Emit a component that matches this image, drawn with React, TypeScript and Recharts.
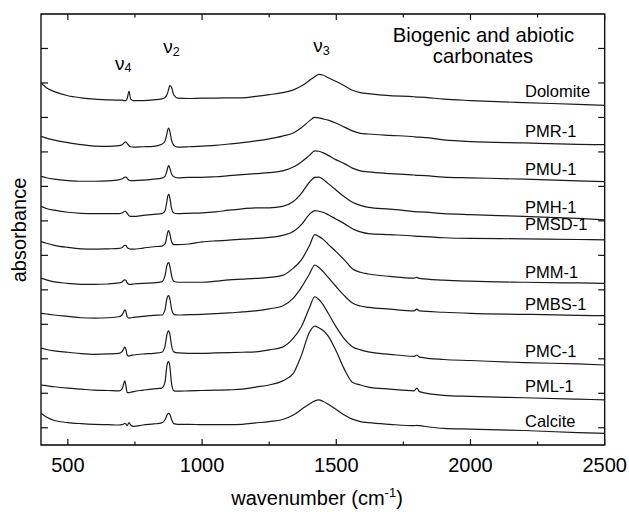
import React from "react";
import { LineChart, Line, XAxis, YAxis, ReferenceArea } from "recharts";

// wavenumber grid (cm-1)
const wavenumbers = [
  400, 420, 450, 500, 550, 600, 650,
  690, 702, 708, 712, 716, 721, 728, 734, 745,
  780, 820, 850, 862, 868, 872, 876, 880, 886, 895, 910,
  950, 1000, 1050, 1100, 1150, 1200, 1250, 1300,
  1340, 1370, 1400, 1420, 1435, 1450, 1470, 1500,
  1530, 1560, 1590, 1620, 1700,
  1790, 1800, 1810, 1900, 2000, 2200, 2400, 2500,
];

// stacked absorbance traces (offset units)
const dolomite = [
  10.50, 10.36, 10.25, 10.13, 10.07, 10.03, 10.01,
  10.00, 10.00, 9.99, 9.99, 9.99, 10.05, 10.26, 10.03, 9.99,
  9.99, 10.01, 10.04, 10.08, 10.14, 10.22, 10.33, 10.42, 10.38, 10.15, 10.06,
  10.05, 10.06, 10.06, 10.07, 10.07, 10.11, 10.16, 10.22,
  10.30, 10.41, 10.57, 10.68, 10.75, 10.73, 10.65, 10.54,
  10.42, 10.29, 10.22, 10.19, 10.13,
  10.10, 10.09, 10.09, 10.03, 9.99, 9.93, 9.88, 9.85,
];
const pmr1 = [
  8.95, 8.90, 8.84, 8.77, 8.71, 8.67, 8.66,
  8.68, 8.71, 8.75, 8.78, 8.79, 8.75, 8.68, 8.65, 8.64,
  8.65, 8.66, 8.72, 8.82, 8.99, 9.14, 9.19, 9.09, 8.85, 8.69, 8.64,
  8.65, 8.67, 8.69, 8.73, 8.77, 8.82, 8.88, 8.96,
  9.05, 9.20, 9.40, 9.50, 9.49, 9.46, 9.42, 9.33,
  9.22, 9.11, 9.04, 9.02, 8.98,
  8.94, 8.93, 8.93, 8.85, 8.80, 8.76, 8.72, 8.71,
];
const pmu1 = [
  7.79, 7.75, 7.71, 7.67, 7.65, 7.65, 7.66,
  7.69, 7.72, 7.75, 7.77, 7.77, 7.74, 7.68, 7.67, 7.67,
  7.68, 7.71, 7.74, 7.79, 7.92, 8.04, 8.10, 8.03, 7.87, 7.78, 7.75,
  7.76, 7.76, 7.78, 7.81, 7.84, 7.87, 7.90, 7.95,
  8.06, 8.21, 8.40, 8.53, 8.52, 8.48, 8.40, 8.27,
  8.16, 8.03, 7.95, 7.92, 7.87,
  7.83, 7.82, 7.82, 7.77, 7.75, 7.71, 7.66, 7.64,
];
const pmh1 = [
  6.92, 6.86, 6.81, 6.75, 6.72, 6.71, 6.71,
  6.71, 6.73, 6.76, 6.78, 6.77, 6.72, 6.65, 6.63, 6.63,
  6.66, 6.69, 6.71, 6.79, 7.02, 7.21, 7.28, 7.17, 6.88, 6.73, 6.71,
  6.72, 6.73, 6.76, 6.81, 6.85, 6.88, 6.88, 6.92,
  7.06, 7.30, 7.62, 7.76, 7.77, 7.71, 7.58, 7.39,
  7.20, 7.04, 6.95, 6.89, 6.84,
  6.77, 6.76, 6.76, 6.71, 6.68, 6.63, 6.57, 6.53,
];
const pmsd1 = [
  5.90, 5.85, 5.79, 5.73, 5.69, 5.68, 5.69,
  5.70, 5.73, 5.77, 5.79, 5.79, 5.73, 5.69, 5.68, 5.68,
  5.71, 5.75, 5.77, 5.83, 6.02, 6.17, 6.22, 6.12, 5.91, 5.81, 5.81,
  5.83, 5.89, 5.92, 5.94, 5.97, 5.99, 6.02, 6.08,
  6.19, 6.39, 6.69, 6.80, 6.78, 6.75, 6.68, 6.55,
  6.42, 6.27, 6.18, 6.13, 6.10,
  6.06, 6.05, 6.05, 6.01, 5.99, 5.98, 5.96, 5.95,
];
const pmm1 = [
  4.84, 4.79, 4.73, 4.69, 4.66, 4.66, 4.67,
  4.70, 4.73, 4.78, 4.79, 4.78, 4.70, 4.66, 4.66, 4.67,
  4.69, 4.70, 4.73, 4.91, 5.17, 5.27, 5.29, 5.19, 4.93, 4.75, 4.72,
  4.72, 4.72, 4.75, 4.79, 4.81, 4.83, 4.86, 4.92,
  5.13, 5.37, 5.78, 6.10, 6.05, 5.97, 5.82, 5.60,
  5.37, 5.11, 5.01, 4.96, 4.89,
  4.84, 4.86, 4.83, 4.78, 4.75, 4.72, 4.70, 4.69,
];
const pmbs1 = [
  3.82, 3.80, 3.77, 3.73, 3.69, 3.68, 3.69,
  3.72, 3.77, 3.86, 3.92, 3.88, 3.72, 3.68, 3.69, 3.70,
  3.73, 3.76, 3.77, 3.92, 4.21, 4.31, 4.33, 4.24, 3.96, 3.79, 3.77,
  3.78, 3.79, 3.81, 3.83, 3.86, 3.89, 3.95, 4.03,
  4.26, 4.57, 4.96, 5.22, 5.15, 5.04, 4.86, 4.59,
  4.33, 4.12, 4.03, 3.99, 3.94,
  3.89, 3.94, 3.89, 3.85, 3.82, 3.79, 3.76, 3.75,
];
const pmc1 = [
  2.81, 2.77, 2.73, 2.69, 2.65, 2.63, 2.64,
  2.66, 2.71, 2.79, 2.84, 2.79, 2.61, 2.58, 2.60, 2.61,
  2.64, 2.66, 2.69, 2.87, 3.16, 3.28, 3.31, 3.22, 2.90, 2.70, 2.67,
  2.66, 2.66, 2.67, 2.68, 2.69, 2.70, 2.76, 2.84,
  3.10, 3.43, 3.98, 4.30, 4.22, 4.08, 3.82, 3.42,
  3.08, 2.85, 2.76, 2.70, 2.63,
  2.57, 2.61, 2.55, 2.48, 2.45, 2.39, 2.35, 2.32,
];
const pml1 = [
  1.74, 1.72, 1.69, 1.65, 1.62, 1.59, 1.58,
  1.57, 1.63, 1.77, 1.86, 1.74, 1.52, 1.52, 1.53, 1.55,
  1.59, 1.63, 1.65, 1.83, 2.24, 2.39, 2.42, 2.29, 1.80, 1.57, 1.56,
  1.57, 1.58, 1.59, 1.60, 1.62, 1.68, 1.74, 1.86,
  2.08, 2.60, 3.27, 3.45, 3.40, 3.33, 3.16, 2.72,
  2.20, 1.82, 1.74, 1.68, 1.62,
  1.57, 1.65, 1.55, 1.44, 1.41, 1.37, 1.33, 1.31,
];
const calcite = [
  0.92, 0.81, 0.71, 0.65, 0.62, 0.60, 0.59,
  0.58, 0.59, 0.61, 0.63, 0.61, 0.56, 0.65, 0.58, 0.54,
  0.58, 0.61, 0.64, 0.73, 0.84, 0.90, 0.92, 0.89, 0.75, 0.62, 0.60,
  0.60, 0.59, 0.59, 0.59, 0.60, 0.64, 0.68, 0.74,
  0.87, 1.03, 1.19, 1.28, 1.31, 1.27, 1.18, 1.03,
  0.87, 0.75, 0.68, 0.65, 0.60,
  0.56, 0.57, 0.56, 0.48, 0.46, 0.42, 0.36, 0.34,
];

const seriesNames = ["Dolomite", "PMR-1", "PMU-1", "PMH-1", "PMSD-1", "PMM-1", "PMBS-1", "PMC-1", "PML-1", "Calcite"];
const seriesValues = [dolomite, pmr1, pmu1, pmh1, pmsd1, pmm1, pmbs1, pmc1, pml1, calcite];
// label baselines in the same offset units
const labelLevels = [10.10, 8.94, 7.83, 6.73, 6.24, 4.83, 3.92, 2.56, 1.55, 0.53];

const xTicks = [500, 750, 1000, 1250, 1500, 1750, 2000, 2250, 2500];
const yTicks = [0.5, 1.5, 2.5, 3.5, 4.5, 5.5, 6.5, 7.5, 8.5, 9.5, 10.5, 11.5];

const data = wavenumbers.map((w, i) => {
  const row: Record<string, number> = { w };
  seriesNames.forEach((name, k) => {
    row[name] = seriesValues[k][i];
  });
  return row;
});

const W = 629;
const H = 512;
const M_TOP = 14;
const M_RIGHT = 24.3;
const Y_AXIS_W = 41;
const X_AXIS_H = 67;
const PLOT_TOP = M_TOP;
const PLOT_BOTTOM = H - X_AXIS_H;
const PLOT_LEFT = Y_AXIS_W;
const PLOT_RIGHT = W - M_RIGHT;
const FONT = '"Liberation Sans", Arial, Helvetica, sans-serif';
const INK = "#111";

const XTick = (props: any) => {
  const { x, payload } = props;
  const v = payload.value;
  const major = v % 500 === 0;
  const len = major ? 6 : 3.5;
  return (
    <g>
      <line x1={x} x2={x} y1={PLOT_BOTTOM} y2={PLOT_BOTTOM - len} stroke={INK} strokeWidth={1.2} />
      <line x1={x} x2={x} y1={PLOT_TOP} y2={PLOT_TOP + len} stroke={INK} strokeWidth={1.2} />
      {major && (
        <text x={x} y={PLOT_BOTTOM + 26.5} textAnchor="middle" fontSize={20} fill="#000" fontFamily={FONT}>
          {v}
        </text>
      )}
    </g>
  );
};

const YTick = (props: any) => {
  const { y } = props;
  return (
    <g>
      <line x1={PLOT_LEFT} x2={PLOT_LEFT + 7} y1={y} y2={y} stroke={INK} strokeWidth={1.2} />
      <line x1={PLOT_RIGHT} x2={PLOT_RIGHT - 6.5} y1={y} y2={y} stroke={INK} strokeWidth={1.2} />
    </g>
  );
};

const YDOMAIN: [number, number] = [0, 12.5];
const yPix = (v: number) => PLOT_BOTTOM - ((v - YDOMAIN[0]) / (YDOMAIN[1] - YDOMAIN[0])) * (PLOT_BOTTOM - PLOT_TOP);

export default function App() {
  return (
    <div style={{ position: "fixed", left: 0, top: 0, width: W, height: H, background: "#fff" }}>
      <LineChart
        width={W}
        height={H}
        data={data}
        margin={{ top: M_TOP, right: M_RIGHT, bottom: 0, left: 0 }}
      >
        <XAxis
          dataKey="w"
          type="number"
          domain={[400, 2500]}
          ticks={xTicks}
          interval={0}
          allowDataOverflow
          height={X_AXIS_H}
          tickLine={false}
          axisLine={false}
          tickSize={0}
          tickMargin={0}
          tick={<XTick />}
        />
        <YAxis
          type="number"
          domain={YDOMAIN}
          ticks={yTicks}
          interval={0}
          allowDataOverflow
          width={Y_AXIS_W}
          tickLine={false}
          axisLine={false}
          tickSize={0}
          tick={<YTick />}
        />
        {seriesNames.map((name) => (
          <Line
            key={name}
            dataKey={name}
            type="monotone"
            stroke="#1a1a1a"
            strokeWidth={1.2}
            dot={false}
            activeDot={false}
            isAnimationActive={false}
          />
        ))}
        <ReferenceArea
          x1={400}
          x2={2500}
          y1={YDOMAIN[0]}
          y2={YDOMAIN[1]}
          fill="none"
          fillOpacity={0}
          stroke="#000"
          strokeWidth={1.3}
          ifOverflow="visible"
        />
      </LineChart>
      <svg
        width={W}
        height={H}
        style={{ position: "absolute", left: 0, top: 0, pointerEvents: "none" }}
        fontFamily={FONT}
      >
        {/* band assignments */}
        <text x={115} y={70} fontSize={19} fill="#000">
          ν<tspan fontSize={12.5} dy={1.7}>4</tspan>
        </text>
        <text x={163.3} y={53.3} fontSize={19} fill="#000">
          ν<tspan fontSize={12.5} dy={2.7}>2</tspan>
        </text>
        <text x={313.3} y={51.5} fontSize={19} fill="#000">
          ν<tspan fontSize={12.5} dy={3.5}>3</tspan>
        </text>
        {/* title */}
        <text x={483.4} y={41.7} fontSize={20.3} textAnchor="middle" fill="#000">
          Biogenic and abiotic
        </text>
        <text x={483} y={63.3} fontSize={20.3} textAnchor="middle" fill="#000">
          carbonates
        </text>
        {/* series labels */}
        {seriesNames.map((name, k) => (
          <text key={name} x={525} y={yPix(labelLevels[k])} fontSize={16.5} fill="#000">
            {name}
          </text>
        ))}
        {/* axis titles */}
        <text x={317} y={505} fontSize={20} textAnchor="middle" fill="#000">
          wavenumber (cm<tspan fontSize={13} dy={-8}>-1</tspan>
          <tspan dy={8}>)</tspan>
        </text>
        <text transform="translate(25.5,230) rotate(-90)" fontSize={20} textAnchor="middle" fill="#000">
          absorbance
        </text>
      </svg>
    </div>
  );
}
